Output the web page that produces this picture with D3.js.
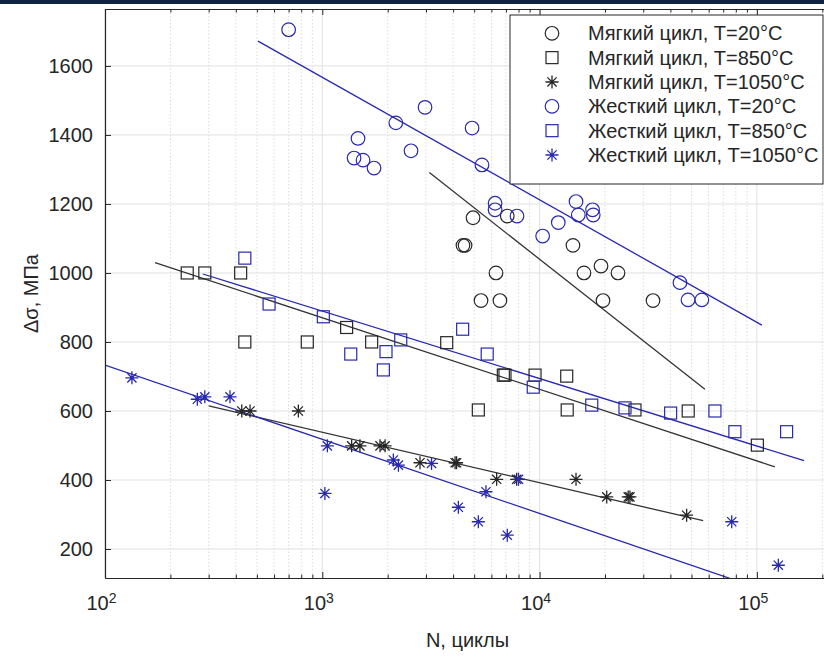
<!DOCTYPE html>
<html>
<head>
<meta charset="utf-8">
<script src="https://cdn.jsdelivr.net/npm/d3@7"></script>
<style>
  body { margin: 0; background: #fff; }
  text { font-family: "Liberation Sans", Arial, Helvetica, sans-serif; fill: #262626; }
</style>
</head>
<body>
<script>
// data (N in cycles, stress range in MPa)
var soft20N = [4940, 4440, 4540, 6300, 5375, 6570, 7100, 14240, 16000, 19170, 22950, 19580, 33260];
var soft20S = [1160, 1080, 1080, 1000, 920, 920, 1165, 1080, 1000, 1020, 1000, 920, 920];

var soft850N = [239, 288, 421, 440, 853, 1687, 1294, 3737, 6810, 6930, 9530, 13330, 5225, 13400, 27480, 48300, 100500];
var soft850S = [1000, 1000, 1000, 800, 800, 800, 842, 798, 704, 704, 704, 701, 603, 603, 603, 600, 501];

var soft1050N = [426, 465, 776, 1365, 1490, 1843, 1945, 2816, 4085, 4150, 6345, 7842, 14710, 20370, 25580, 26050, 47500];
var soft1050S = [600, 600, 600, 499, 499, 499, 499, 450, 450, 450, 402, 402, 402, 351, 351, 351, 298];

var hard20N = [700, 1460, 1400, 1540, 1730, 2180, 2560, 2970, 4890, 5430, 6240, 6240, 7870, 10330, 12190, 14710, 15070, 17530, 17650, 44250, 48200, 55800];
var hard20S = [1705, 1390, 1333, 1327, 1304, 1435, 1354, 1480, 1420, 1313, 1202, 1183, 1165, 1107, 1146, 1207, 1168, 1183, 1168, 972, 922, 922];

var hard850N = [440, 569, 1011, 1352, 1964, 1910, 2296, 4425, 5740, 9350, 17380, 24720, 40090, 64100, 79200, 137000];
var hard850S = [1043, 910, 873, 765, 772, 719, 806, 837, 765, 669, 617, 609, 594, 600, 540, 540];

var hard1050N = [133, 266, 288, 376, 1055, 1028, 2123, 2240, 3182, 4228, 5225, 5665, 7100, 8000, 76600, 125500];
var hard1050S = [696, 634, 641, 641, 499, 361, 458, 443, 448, 321, 279, 366, 240, 402, 279, 153];

// fitted lines (end points)
var fitSoft20N = [3109, 57670], fitSoft20S = [1291, 663];
var fitHard20N = [506, 105400], fitHard20S = [1672, 849];
var fitSoft850N = [170, 121000], fitSoft850S = [1030, 438];
var fitHard850N = [282, 164800], fitHard850S = [997, 456];
var fitSoft1050N = [300, 56600], fitSoft1050S = [615, 282];
var fitHard1050N = [100, 75000], fitHard1050S = [733, 115];

var xMajor = [1e2, 1e3, 1e4, 1e5];
var yTicks = [200, 400, 600, 800, 1000, 1200, 1400, 1600];
var legendLabels = ["Мягкий цикл, T=20°C", "Мягкий цикл, T=850°C", "Мягкий цикл, T=1050°C",
                    "Жесткий цикл, T=20°C", "Жесткий цикл, T=850°C", "Жесткий цикл, T=1050°C"];

var width = 824, height = 657;
var pLeft = 105, pRight = 830, pTop = 9, pBottom = 578;
var black = "#262626", blue = "#2828b0", axisCol = "#262626";

var xMinor = [];
[1e2, 1e3, 1e4, 1e5].forEach(function(d) {
  for (var k = 2; k <= 9; k++) xMinor.push(d * k);
});
xMinor = xMinor.filter(function(d) { return d < 2.17e5; });

var svg = d3.select("body").append("svg")
  .attr("width", width)
  .attr("height", height);

var x = d3.scaleLog().domain([100, 2.17e5]).range([pLeft, pRight]);
var y = d3.scaleLinear().domain([116, 1765]).range([pBottom, pTop]);

svg.append("defs").append("clipPath").attr("id", "plotclip")
  .append("rect").attr("x", pLeft).attr("y", pTop)
  .attr("width", pRight - pLeft).attr("height", pBottom - pTop);

// grid
svg.append("g").selectAll("line").data(xMinor).enter().append("line")
  .attr("x1", d => x(d)).attr("x2", d => x(d))
  .attr("y1", pTop).attr("y2", pBottom)
  .attr("stroke", "#d4d4d4").attr("stroke-width", 0.8)
  .attr("stroke-dasharray", "1.5,2");
svg.append("g").selectAll("line").data(xMajor).enter().append("line")
  .attr("x1", d => x(d)).attr("x2", d => x(d))
  .attr("y1", pTop).attr("y2", pBottom)
  .attr("stroke", "#e1e1e1").attr("stroke-width", 1);
svg.append("g").selectAll("line").data(yTicks).enter().append("line")
  .attr("x1", pLeft).attr("x2", pRight)
  .attr("y1", d => y(d)).attr("y2", d => y(d))
  .attr("stroke", "#e1e1e1").attr("stroke-width", 1);

// fit lines
var plot = svg.append("g").attr("clip-path", "url(#plotclip)");
var lineGen = d3.line().x(d => x(d[0])).y(d => y(d[1]));
function fit(ns, ss, col) {
  plot.append("path")
    .datum(d3.zip(ns, ss))
    .attr("d", lineGen)
    .attr("fill", "none")
    .attr("stroke", col)
    .attr("stroke-width", 1.3);
}
fit(fitSoft20N, fitSoft20S, "#333");
fit(fitHard20N, fitHard20S, blue);
fit(fitSoft850N, fitSoft850S, "#333");
fit(fitHard850N, fitHard850S, blue);
fit(fitSoft1050N, fitSoft1050S, "#333");
fit(fitHard1050N, fitHard1050S, blue);

// markers
function marker(g, type, col) {
  if (type == "circle") {
    g.append("circle").attr("r", 6.8).attr("fill", "none")
      .attr("stroke", col).attr("stroke-width", 1.2);
  } else if (type == "square") {
    g.append("rect").attr("x", -6).attr("y", -6)
      .attr("width", 12).attr("height", 12).attr("fill", "none")
      .attr("stroke", col).attr("stroke-width", 1.2);
  } else {
    var r = 6.5, q = 4.6;
    g.append("path")
      .attr("d", "M" + (-r) + ",0H" + r + "M0," + (-r) + "V" + r +
                 "M" + (-q) + "," + (-q) + "L" + q + "," + q +
                 "M" + (-q) + "," + q + "L" + q + "," + (-q))
      .attr("stroke", col).attr("stroke-width", 1.3).attr("fill", "none");
  }
}
function points(ns, ss, type, col) {
  plot.append("g").selectAll("g")
    .data(d3.zip(ns, ss))
    .enter().append("g")
    .attr("transform", d => "translate(" + x(d[0]) + "," + y(d[1]) + ")")
    .each(function() { marker(d3.select(this), type, col); });
}
points(soft20N, soft20S, "circle", black);
points(soft850N, soft850S, "square", black);
points(soft1050N, soft1050S, "star", black);
points(hard20N, hard20S, "circle", blue);
points(hard850N, hard850S, "square", blue);
points(hard1050N, hard1050S, "star", blue);

// axes
function styleAxis(g) {
  g.select(".domain").attr("stroke", axisCol).attr("stroke-width", 1.2);
  g.selectAll(".tick line").attr("stroke", axisCol).attr("stroke-width", 1);
  g.selectAll(".tick text").style("font-size", "20px").attr("fill", axisCol);
}
svg.append("g")
  .attr("transform", "translate(" + pLeft + ",0)")
  .call(d3.axisLeft(y).tickValues(yTicks).tickSize(-6).tickSizeOuter(0).tickPadding(12)
    .tickFormat(d3.format("d")))
  .call(styleAxis);

var xAxis = svg.append("g")
  .attr("transform", "translate(0," + pBottom + ")")
  .call(d3.axisBottom(x).tickValues(xMajor).tickSize(-6).tickSizeOuter(0).tickPadding(18)
    .tickFormat(d => Math.round(Math.log10(d))))
  .call(styleAxis);
xAxis.selectAll(".tick text").each(function(d) {
  var t = d3.select(this);
  var p = Math.round(Math.log10(d));
  t.text(null).attr("dx", "-0.2em");
  t.append("tspan").text("10");
  t.append("tspan").text(p).attr("dy", "-0.55em").style("font-size", "14px");
});
svg.append("g")
  .attr("transform", "translate(0," + pBottom + ")")
  .call(d3.axisBottom(x).tickValues(xMinor).tickSize(-3.5).tickSizeOuter(0).tickFormat(""))
  .call(styleAxis);
svg.append("g")
  .attr("transform", "translate(0," + pTop + ")")
  .call(d3.axisTop(x).tickValues(xMajor).tickSize(-6).tickSizeOuter(0).tickFormat(""))
  .call(styleAxis);
svg.append("g")
  .attr("transform", "translate(0," + pTop + ")")
  .call(d3.axisTop(x).tickValues(xMinor).tickSize(-3.5).tickSizeOuter(0).tickFormat(""))
  .call(styleAxis);

// axis titles
svg.append("text")
  .text("N, циклы")
  .attr("x", (pLeft + pRight) / 2)
  .attr("y", 647)
  .attr("text-anchor", "middle")
  .style("font-size", "20px");
svg.append("text")
  .text("Δσ, МПа")
  .attr("transform", "translate(38," + ((pTop + pBottom) / 2) + ") rotate(-90)")
  .attr("text-anchor", "middle")
  .style("font-size", "20px");

// legend
var leg = svg.append("g");
leg.append("rect")
  .attr("x", 510).attr("y", 15).attr("width", 313).attr("height", 169)
  .attr("fill", "#fff").attr("stroke", axisCol).attr("stroke-width", 1);
var legTypes = ["circle", "square", "star", "circle", "square", "star"];
var legCols = [black, black, black, blue, blue, blue];
var rowY = d3.scaleLinear().domain([0, 5]).range([33.3, 155]);
legendLabels.forEach(function(lbl, i) {
  var g = leg.append("g").attr("transform", "translate(552," + rowY(i) + ")");
  marker(g, legTypes[i], legCols[i]);
  leg.append("text")
    .text(lbl)
    .attr("x", 588)
    .attr("y", rowY(i))
    .attr("dy", "0.35em")
    .style("font-size", "20px");
});

// dark strip along the top of the screenshot
svg.append("rect").attr("x", 0).attr("y", 0).attr("width", width).attr("height", 4)
  .attr("fill", "#0f2342");
</script>
</body>
</html>
